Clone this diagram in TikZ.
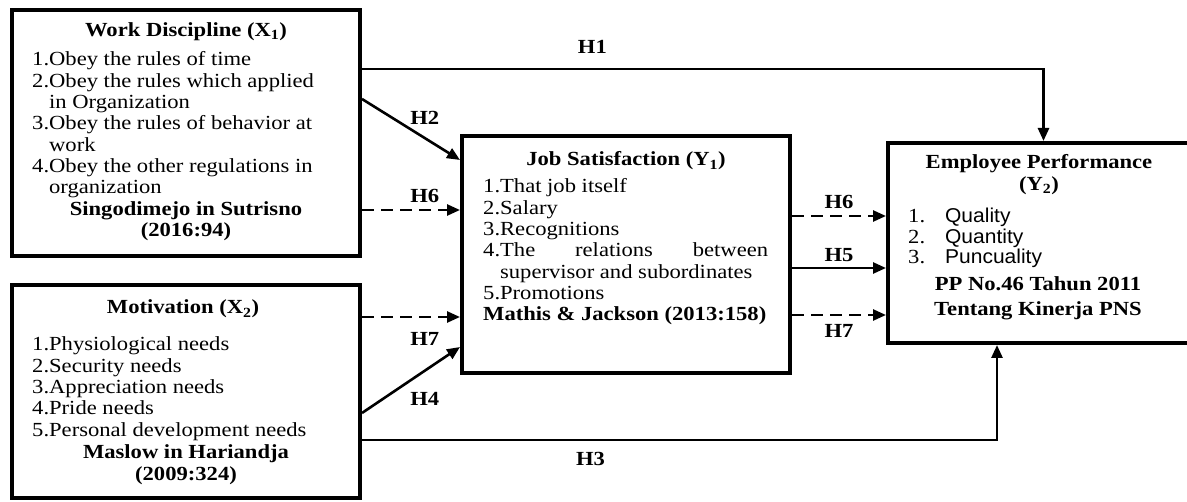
\documentclass[tikz,border=0pt]{standalone}
\usepackage{fontspec}
\setmainfont{Liberation Serif}[FakeStretch=1.13]
\newfontfamily\itemsans{Liberation Sans}[FakeStretch=1.05]
\usetikzlibrary{arrows.meta}
\usetikzlibrary{positioning}

\begin{document}
\begin{tikzpicture}[x=1pt,y=-1pt]
  \tikzset{every node/.style={inner sep=0pt,font=\fontsize{20}{21.3}\selectfont}}
  \tikzset{varbox/.style={draw,line width=4pt},
           hyp/.style={line width=2.6pt,-{Triangle[length=13pt,width=11pt]}},
           hypdash/.style={hyp,dash pattern=on 12pt off 7pt},
           hlabel/.style={font=\fontsize{20}{21.3}\selectfont\bfseries}}
  \useasboundingbox (0,0) rectangle (1187,502);

  % variable boxes
  \node[varbox,minimum width=348pt,minimum height=246pt] (wd) at (186,133) {};
  \node[varbox,minimum width=348pt,minimum height=213pt] (mot) at (186,391.5) {};
  \node[varbox,minimum width=328pt,minimum height=237pt] (js) at (626,254.5) {};
  \node[varbox,minimum width=311pt,minimum height=200pt] (ep) at (1043.5,243) {};

  % work discipline
  \node[anchor=base,hlabel] (wd-title) at (186,36.5) {Work Discipline (X\textsubscript{1})};
  \node[anchor=base west] (wd-list) at (32,66) {\begin{tabular}[t]{@{}l@{}l@{}}
    1.&Obey the rules of time\\
    2.&Obey the rules which applied\\
      &in Organization\\
    3.&Obey the rules of behavior at\\
      &work\\
    4.&Obey the other regulations in\\
      &organization
  \end{tabular}};
  \node[anchor=base] (wd-src) at (186,215.5) {\begin{tabular}[t]{@{}c@{}}
    \bfseries Singodimejo in Sutrisno\\ \bfseries (2016:94)\end{tabular}};

  % motivation
  \node[anchor=base,hlabel] (mot-title) at (183,314) {Motivation (X\textsubscript{2})};
  \node[anchor=base west] (mot-list) at (32,351) {\begin{tabular}[t]{@{}l@{}l@{}}
    1.&Physiological needs\\
    2.&Security needs\\
    3.&Appreciation needs\\
    4.&Pride needs\\
    5.&Personal development needs
  \end{tabular}};
  \node[anchor=base] (mot-src) at (186,459) {\begin{tabular}[t]{@{}c@{}}
    \bfseries Maslow in Hariandja\\ \bfseries (2009:324)\end{tabular}};

  % job satisfaction
  \node[anchor=base,hlabel] (js-title) at (626,166) {Job Satisfaction (Y\textsubscript{1})};
  \node[anchor=base west] (js-list) at (483,193) {\begin{tabular}[t]{@{}l@{}l@{}}
    1.&That job itself\\
    2.&Salary\\
    3.&Recognitions\\
    4.&\makebox[268pt][s]{The relations between}\\
      &supervisor and subordinates\\
    5.&Promotions\\
    \multicolumn{2}{@{}l@{}}{\bfseries Mathis \& Jackson (2013:158)}
  \end{tabular}};

  % employee performance
  \node[anchor=base] (ep-title) at (1039,169) {\begin{tabular}[t]{@{}c@{}}
    \bfseries Employee Performance\\ \bfseries (Y\textsubscript{2})\end{tabular}};
  \node[anchor=base west] (ep-list) at (908,223) {\fontsize{20}{20}\selectfont
    \begin{tabular}[t]{@{}l@{\hspace{20pt}}l@{}}
    1.&{\itemsans Quality}\\
    2.&{\itemsans Quantity}\\
    3.&{\itemsans Puncuality}
  \end{tabular}};
  \node[anchor=base] (ep-src) at (1038,291) {\fontsize{20}{25}\selectfont
    \begin{tabular}[t]{@{}c@{}}
    \bfseries PP No.46 Tahun 2011\\ \bfseries Tentang Kinerja PNS\end{tabular}};

  % hypotheses
  \draw[hyp] ([yshift=64pt]wd.east) -| node[hlabel,pos=0.169,above=14pt] {H1} (ep.north);
  \draw[hyp] ([yshift=34pt]wd.east) -- node[hlabel,pos=0.64,above=12pt] {H2} ([yshift=94.5pt]js.west);
  \draw[hypdash] ([yshift=-77pt]wd.east) -- node[hlabel,pos=0.64,above=6pt] {H6} ([yshift=-77pt]wd.east -| js.west);
  \draw[hypdash] ([yshift=74.5pt]mot.east) -- node[hlabel,pos=0.64,below=14pt] {H7} ([yshift=74.5pt]mot.east -| js.west);
  \draw[hyp] ([yshift=-21.5pt]mot.east) -- node[hlabel,pos=0.64,below=20pt] {H4} ([yshift=-92.5pt]js.west);
  \draw[hyp] ([yshift=-48.5pt]mot.east) -| node[hlabel,pos=0.18,below=11pt] {H3} ([xshift=-46.5pt]ep.south);
  \draw[hypdash] ([yshift=38.5pt]js.east) -- node[hlabel,above=6pt] {H6} ([yshift=38.5pt]js.east -| ep.west);
  \draw[hyp] ([yshift=-13.5pt]js.east) -- node[hlabel,above=5pt] {H5} ([yshift=-13.5pt]js.east -| ep.west);
  \draw[hypdash] ([yshift=-60.5pt]js.east) -- node[hlabel,below=8pt] {H7} ([yshift=-60.5pt]js.east -| ep.west);
\end{tikzpicture}
\end{document}
